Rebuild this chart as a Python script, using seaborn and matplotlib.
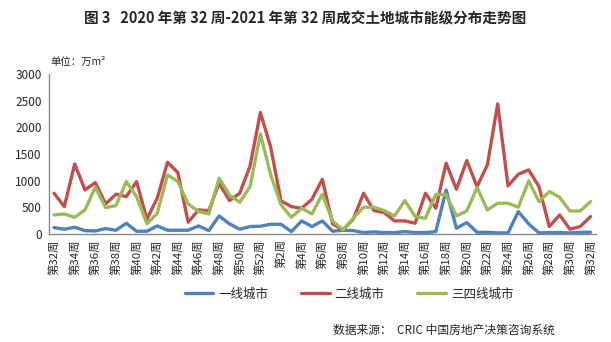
import matplotlib
matplotlib.use("Agg")
import matplotlib.pyplot as plt
import seaborn as sns
import pandas as pd
import numpy as np

weeks = [f"第{w}周" for w in range(32, 53)] + [f"第{w}周" for w in range(1, 33)]

tier1 = [119, 88, 125, 62, 56, 100, 69, 200, 50, 50, 150, 69, 69, 69, 150,
         62, 338, 188, 88, 138, 144, 181, 181, 44, 244, 138, 244, 50, 69, 62,
         25, 38, 25, 25, 44, 25, 25, 44, 825, 106, 212, 31, 31, 19, 19, 419,
         188, 19, 25, 25, 19, 31, 31]
tier2 = [762, 512, 1312, 825, 962, 562, 744, 700, 981, 275, 669, 1344, 1150, 219, 450,
         438, 950, 625, 762, 1275, 2275, 1625, 619, 512, 481, 650, 1025, 188, 75, 275,
         762, 438, 400, 244, 244, 200, 762, 481, 1325, 838, 1375, 888, 1294, 2438, 900, 1119,
         1200, 888, 138, 356, 88, 138, 325]
tier34 = [356, 375, 312, 450, 875, 494, 531, 981, 700, 188, 388, 1106, 981, 562, 419,
          375, 1044, 731, 594, 888, 1875, 1106, 544, 312, 481, 375, 744, 244, 75, 294,
          500, 500, 438, 338, 625, 325, 294, 744, 731, 338, 431, 869, 450, 575, 575, 500,
          994, 606, 794, 688, 431, 431, 606]

series_names = ["一线城市", "二线城市", "三四线城市"]
colors = ["#4F81BD", "#C0504D", "#9BBB59"]

n = len(weeks)
df = pd.DataFrame({
    "idx": list(range(n)) * 3,
    "value": tier1 + tier2 + tier34,
    "series": [series_names[0]] * n + [series_names[1]] * n + [series_names[2]] * n,
})

sns.set_style("white")
plt.rcParams["font.family"] = ["Noto Sans CJK SC", "DejaVu Sans"]

fig = plt.figure(figsize=(6.11, 3.42), dpi=100)
ax = fig.add_axes([0.080, 0.316, 0.895, 0.468])

sns.lineplot(data=df, x="idx", y="value", hue="series", hue_order=series_names,
             palette=colors, linewidth=2.4, ax=ax, legend=False)

ax.set_xlim(-0.5, n - 0.5)
ax.set_ylim(0, 3000)
ax.set_yticks(range(0, 3001, 500))
ax.tick_params(axis="y", labelsize=8.5, length=3, color="#888888", pad=2)
ax.set_xticks(list(range(0, n, 2)))
ax.set_xticklabels([weeks[i] for i in range(0, n, 2)], rotation=90, fontsize=8.2)
ax.set_xticks(np.arange(-0.5, n, 1.0), minor=True)
ax.tick_params(axis="x", which="major", length=0, pad=4)
ax.tick_params(axis="x", which="minor", length=5, color="#888888")
ax.tick_params(direction="out")
ax.set_xlabel("")
ax.set_ylabel("")
for s in ["top", "right"]:
    ax.spines[s].set_visible(False)
for s in ["left", "bottom"]:
    ax.spines[s].set_color("#888888")
    ax.spines[s].set_linewidth(1)

fig.text(0.5, 0.947, "图 3   2020 年第 32 周-2021 年第 32 周成交土地城市能级分布走势图",
         ha="center", va="center", fontsize=10.5, fontweight="bold")
fig.text(0.083, 0.82, "单位：万m²", ha="left", va="center", fontsize=7.5)

from matplotlib.lines import Line2D
handles = [Line2D([0], [0], color=c, lw=2.4) for c in colors]
fig.legend(handles, series_names, loc="center", bbox_to_anchor=(0.571, 0.14), ncol=3,
           frameon=False, fontsize=9, handlelength=2.3, handletextpad=0.4,
           columnspacing=2.6)

fig.text(0.545, 0.035, "数据来源：  CRIC 中国房地产决策咨询系统", ha="left", va="center",
         fontsize=8.5)

fig.savefig("out.png", dpi=100)
